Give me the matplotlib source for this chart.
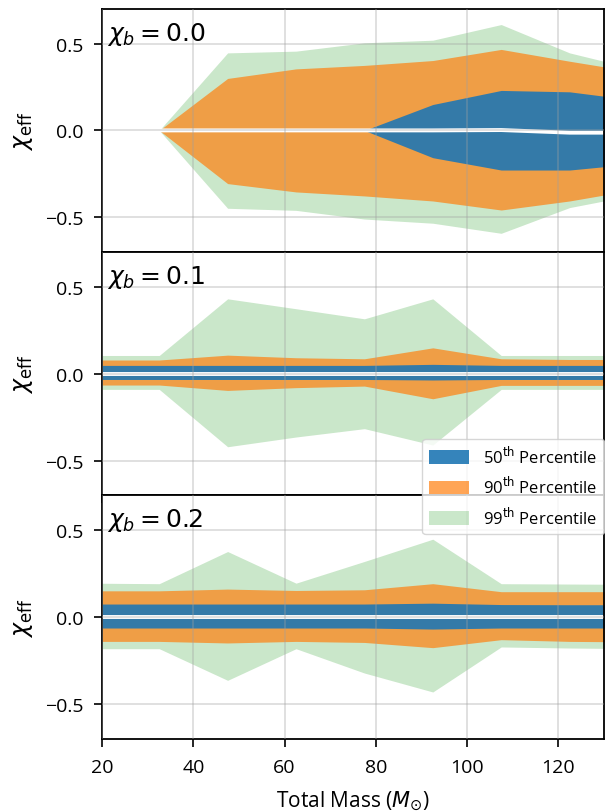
import numpy as np
import matplotlib
matplotlib.use("Agg")
import matplotlib.pyplot as plt

plt.rcParams['font.family'] = ['Open Sans', 'DejaVu Sans']

# bin centres of total mass
mass = [17.5, 32.5, 47.5, 62.5, 77.5, 92.5, 107.5, 122.5, 137.5]
chi_b_values = ["0.0", "0.1", "0.2"]

nan = np.nan
# chi_b = 0.0
p50_lo_0 = [nan, 0.0, 0.0, 0.0, 0.0, -0.157, -0.228, -0.228, -0.19]
p50_hi_0 = [nan, 0.0, 0.0, 0.0, 0.0, 0.149, 0.230, 0.222, 0.172]
p90_lo_0 = [nan, 0.0, -0.306, -0.354, -0.377, -0.406, -0.458, -0.406, -0.338]
p90_hi_0 = [nan, 0.0, 0.299, 0.354, 0.374, 0.402, 0.466, 0.398, 0.334]
p99_lo_0 = [nan, 0.0, -0.448, -0.460, -0.510, -0.534, -0.592, -0.444, -0.368]
p99_hi_0 = [nan, 0.0, 0.446, 0.456, 0.504, 0.519, 0.609, 0.446, 0.350]
median_0 = [nan, 0.0, 0.0, 0.0, 0.0, 0.0, 0.002, -0.013, -0.013]

# chi_b = 0.1
p50_lo_1 = [-0.033, -0.033, -0.033, -0.033, -0.033, -0.036, -0.033, -0.033, -0.033]
p50_hi_1 = [0.048, 0.048, 0.048, 0.048, 0.048, 0.054, 0.048, 0.048, 0.048]
p90_lo_1 = [-0.065, -0.065, -0.096, -0.080, -0.071, -0.144, -0.067, -0.067, -0.067]
p90_hi_1 = [0.079, 0.079, 0.107, 0.092, 0.086, 0.149, 0.086, 0.082, 0.082]
p99_lo_1 = [-0.090, -0.090, -0.420, -0.364, -0.316, -0.410, -0.090, -0.090, -0.090]
p99_hi_1 = [0.105, 0.105, 0.431, 0.374, 0.316, 0.431, 0.105, 0.105, 0.105]
median_1 = [0.0, 0.0, 0.0, 0.0, 0.0, 0.0, 0.0, 0.0, 0.0]

# chi_b = 0.2
p50_lo_2 = [-0.063, -0.063, -0.063, -0.063, -0.063, -0.069, -0.063, -0.063, -0.063]
p50_hi_2 = [0.075, 0.075, 0.075, 0.075, 0.075, 0.080, 0.072, 0.071, 0.071]
p90_lo_2 = [-0.140, -0.140, -0.149, -0.140, -0.146, -0.176, -0.130, -0.140, -0.143]
p90_hi_2 = [0.151, 0.151, 0.161, 0.153, 0.157, 0.192, 0.146, 0.146, 0.146]
p99_lo_2 = [-0.182, -0.182, -0.364, -0.182, -0.322, -0.431, -0.172, -0.178, -0.182]
p99_hi_2 = [0.195, 0.192, 0.377, 0.195, 0.320, 0.448, 0.192, 0.190, 0.188]
median_2 = [0.0, 0.0, 0.0, 0.0, 0.0, 0.0, 0.0, 0.0, 0.0]

panels = [
    (p50_lo_0, p50_hi_0, p90_lo_0, p90_hi_0, p99_lo_0, p99_hi_0, median_0),
    (p50_lo_1, p50_hi_1, p90_lo_1, p90_hi_1, p99_lo_1, p99_hi_1, median_1),
    (p50_lo_2, p50_hi_2, p90_lo_2, p90_hi_2, p99_lo_2, p99_hi_2, median_2),
]

fig, axes = plt.subplots(3, 1, sharex=True, figsize=(6.05, 8.12), dpi=100)
fig.subplots_adjust(left=0.169, right=0.998, top=0.988, bottom=0.089, hspace=0)

for ax, chi_b, data in zip(axes, chi_b_values, panels):
    lo50, hi50, lo90, hi90, lo99, hi99, med = data
    h99 = ax.fill_between(mass, lo99, hi99, color='tab:green', alpha=0.25, lw=0)
    h90 = ax.fill_between(mass, lo90, hi90, color='tab:orange', alpha=0.7, lw=0)
    h50 = ax.fill_between(mass, lo50, hi50, color='tab:blue', alpha=0.9, lw=0)
    ax.plot(mass, med, color='white', lw=2.8)

    ax.set_xlim(20, 130)
    ax.set_ylim(-0.7, 0.7)
    ax.set_yticks([-0.5, 0.0, 0.5])
    ax.set_yticklabels(['\u22120.5', '0.0', '0.5'])
    ax.grid(True, color='#a0a0a0', alpha=0.35, lw=1.3)
    ax.set_axisbelow(False)
    ax.tick_params(labelsize=14, length=5.8, width=1.2, direction='out', pad=8)
    for s in ax.spines.values():
        s.set_linewidth(1.3)
    ax.set_ylabel(r'$\chi_{\rm eff}$', fontsize=17, labelpad=7)
    ax.text(0.01, 0.955, r'$\chi_b = %s$' % chi_b, transform=ax.transAxes,
            fontsize=18, va='top', ha='left', family='DejaVu Sans')

axes[-1].set_xticks([20, 40, 60, 80, 100, 120])
axes[-1].set_xlabel(r'Total Mass ($M_{\odot}$)', fontsize=15, labelpad=9)

fig.legend([h50, h90, h99],
           ['50$^{\\rm th}$ Percentile', '90$^{\\rm th}$ Percentile', '99$^{\\rm th}$ Percentile'],
           loc='upper right', bbox_to_anchor=(604 / 605, 1 - 440 / 812),
           borderaxespad=0, fontsize=12, handlelength=2.4, handleheight=0.9,
           handletextpad=0.85, labelspacing=0.55)

fig.savefig('out.png', dpi=100)
